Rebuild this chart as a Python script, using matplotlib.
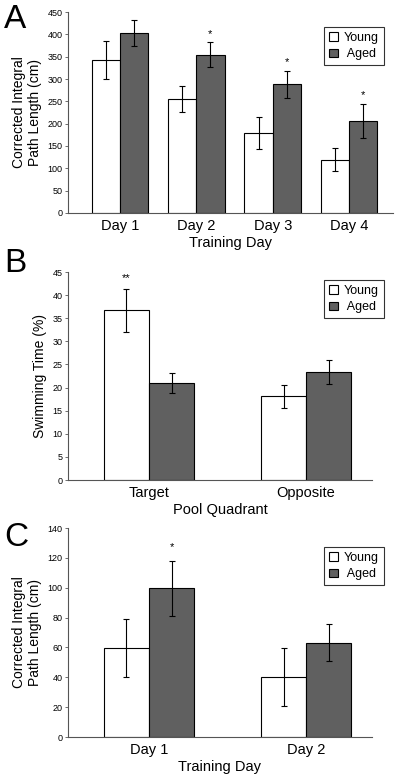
import numpy as np
import matplotlib
matplotlib.use('Agg')
import matplotlib.pyplot as plt

plt.rcParams['font.family'] = ['Liberation Sans', 'DejaVu Sans']

# panel A
days_a = ['Day 1', 'Day 2', 'Day 3', 'Day 4']
young_a = [343, 256, 179, 119]
young_a_err = [42, 29, 36, 26]
aged_a = [404, 354, 288, 206]
aged_a_err = [29, 28, 30, 39]
stars_a = ['', '*', '*', '*']

# panel B
quad_b = ['Target', 'Opposite']
young_b = [36.7, 18.1]
young_b_err = [4.6, 2.5]
aged_b = [21.0, 23.4]
aged_b_err = [2.2, 2.6]

# panel C
days_c = ['Day 1', 'Day 2']
young_c = [59.5, 40.0]
young_c_err = [19.5, 19.5]
aged_c = [99.7, 63.3]
aged_c_err = [18.3, 12.7]

young_col = 'white'
aged_col = '#606060'


def panel(fig, ax, cats, yv, ye, av, ae, width, xlim, ylim, step, ylabel, xlabel, legtop):
    x = np.arange(len(cats))
    ax.bar(x - width / 2, yv, width, color=young_col, edgecolor='black', linewidth=0.8,
           yerr=ye, error_kw=dict(ecolor='black', elinewidth=0.8, capsize=2, capthick=0.8),
           label='Young')
    ax.bar(x + width / 2, av, width, color=aged_col, edgecolor='black', linewidth=0.8,
           yerr=ae, error_kw=dict(ecolor='black', elinewidth=0.8, capsize=2, capthick=0.8),
           label=' Aged')
    ax.set_xlim(*xlim)
    ax.set_ylim(*ylim)
    ax.set_yticks(np.arange(ylim[0], ylim[1] + step / 2, step))
    ax.set_xticks(x)
    ax.set_xticklabels(cats, fontsize=10.5)
    ax.tick_params(axis='x', length=0, pad=4)
    ax.tick_params(axis='y', labelsize=6.5, length=2, width=0.6, pad=2, color='#555555')
    for s in ['top', 'right']:
        ax.spines[s].set_visible(False)
    for s in ['left', 'bottom']:
        ax.spines[s].set_color('#555555')
        ax.spines[s].set_linewidth(0.8)
    ax.set_ylabel(ylabel, fontsize=10, labelpad=4)
    ax.set_xlabel(xlabel, fontsize=10.5, labelpad=2.5)
    leg = ax.legend(loc='upper right', fontsize=9, frameon=True, fancybox=False,
                    handlelength=0.7, handleheight=0.7, handletextpad=0.5,
                    borderpad=0.4, labelspacing=0.35, edgecolor='black',
                    borderaxespad=0,
                    bbox_to_anchor=(384 / 400, legtop), bbox_transform=fig.transFigure)
    leg.get_frame().set_linewidth(0.8)
    return x


fig = plt.figure(figsize=(4.0, 7.81), dpi=100)

axA = fig.add_axes([0.17, 0.7273, 0.8125, 0.2573])
xa = panel(fig, axA, days_a, young_a, young_a_err, aged_a, aged_a_err, 0.37,
           (-0.68, 3.575), (0, 450), 50,
           'Corrected Integral\nPath Length (cm)', 'Training Day', 1 - 27 / 781)
for i, s in enumerate(stars_a):
    if s:
        axA.text(xa[i] + 0.185, aged_a[i] + aged_a_err[i] + 8, s, ha='center',
                 va='bottom', fontsize=8)

axB = fig.add_axes([0.17, 0.3854, 0.76, 0.2663])
xb = panel(fig, axB, quad_b, young_b, young_b_err, aged_b, aged_b_err, 0.287,
           (-0.516, 1.42), (0, 45), 5, 'Swimming Time (%)', 'Pool Quadrant',
           1 - 280 / 781)
axB.text(xb[0] - 0.1435, 42.6, '**', ha='center', va='bottom', fontsize=8)

axC = fig.add_axes([0.17, 0.0563, 0.76, 0.2676])
xc = panel(fig, axC, days_c, young_c, young_c_err, aged_c, aged_c_err, 0.287,
           (-0.516, 1.42), (0, 140), 20,
           'Corrected Integral\nPath Length (cm)', 'Training Day', 1 - 547 / 781)
axC.text(xc[0] + 0.1435, 124, '*', ha='center', va='bottom', fontsize=8)

fig.text(0.01, 0.995, 'A', fontsize=24, va='top', ha='left')
fig.text(0.01, 0.683, 'B', fontsize=24, va='top', ha='left')
fig.text(0.01, 0.331, 'C', fontsize=24, va='top', ha='left')

fig.savefig('out.png', dpi=100)
